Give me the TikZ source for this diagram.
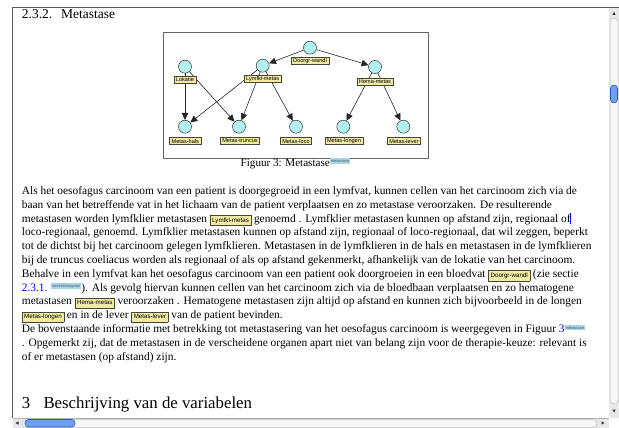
\documentclass[tikz,border=0pt]{standalone}
\usepackage{fontspec}
\setmainfont{Liberation Serif}
\newfontfamily\sansf{Liberation Sans}
\usetikzlibrary{arrows.meta}
\definecolor{labfill}{RGB}{240,234,164}
\definecolor{labdraw}{RGB}{70,70,50}
\definecolor{circfill}{RGB}{178,240,240}
\definecolor{tagfill}{RGB}{168,214,232}
\definecolor{tagtext}{RGB}{70,90,110}
\definecolor{linkblue}{RGB}{0,0,238}
\definecolor{thumbblue}{RGB}{110,160,235}
\definecolor{thumbdraw}{RGB}{40,90,190}
\definecolor{trackgray}{RGB}{232,232,232}
\definecolor{framegray}{RGB}{90,90,90}
\newcommand{\ybox}[1]{{\setlength{\fboxsep}{1.8pt}\setlength{\fboxrule}{0.5pt}\fcolorbox{labdraw}{labfill}{\fontsize{6.2}{7}\sansf\rule[-1.5pt]{0pt}{6.3pt}#1}}}
\newcommand{\btag}[1]{\raisebox{3.5pt}{\setlength{\fboxsep}{1pt}\colorbox{tagfill}{\fontsize{4}{4}\sansf\color{tagtext}\rule{0pt}{3.2pt}#1}}}
\tikzset{
  txt/.style={anchor=base west, inner sep=0pt, font=\fontsize{11.4}{13.8}\selectfont},
  circ/.style={circle, draw=black!80, fill=circfill, line width=0.5pt, minimum size=13pt, inner sep=0pt},
  lab/.style={draw=labdraw, fill=labfill, line width=0.5pt, inner xsep=2pt, inner ysep=0.8pt, font=\fontsize{5.6}{6}\sansf, minimum height=7pt},
  edge/.style={draw=black!85, line width=0.6pt, -{Triangle[length=7pt,width=6.5pt]}}
}
\begin{document}
\begin{tikzpicture}[x=1pt,y=-1pt]
\fill[white] (0,0) rectangle (619,428);
\useasboundingbox (0,0) rectangle (619,428);
% window frame
\draw[framegray, line width=0.8pt] (12.5,418) -- (12.5,7.3) -- (619,7.3);
% title
\node[txt, font=\fontsize{13.5}{15}\selectfont] (t1) at (21.7,18.8) {2.3.2.};
\node[txt, font=\fontsize{13.5}{15}\selectfont] (t2) at (61,18.8) {Metastase};
% figure frame
\draw[gray!80!black, line width=0.9pt] (163,32) rectangle (428,158);
% circles
\node[circ] (cD) at (310,47.7) {};
\node[circ] (cLo) at (185,66.7) {};
\node[circ] (cLy) at (262.7,65.7) {};
\node[circ] (cH) at (375,67) {};
\node[circ] (cMh) at (185,126.7) {};
\node[circ] (cMt) at (239,126.7) {};
\node[circ] (cMl) at (296,126.7) {};
\node[circ] (cMlo) at (343.3,126.7) {};
\node[circ] (cMle) at (403.3,126.7) {};
% edges
\draw[edge] (cD) -- (cLy);
\draw[edge] (cD) -- (cH);
\draw[edge] (cLo) -- (cMh);
\draw[edge] (cLo) -- (cMt);
\draw[edge] (cLy) -- (cMh);
\draw[edge] (cLy) -- (cMt);
\draw[edge] (cLy) -- (cMl);
\draw[edge] (cH) -- (cMlo);
\draw[edge] (cH) -- (cMle);
% labels
\node[lab] (lD) at (310,61) {Doorgr-wandl};
\node[lab] (lLo) at (185,79.3) {Lokatie};
\node[lab] (lLy) at (262.7,79) {Lymfkl-metas};
\node[lab] (lH) at (375,81.7) {Hema-metas};
\node[lab] (lMh) at (185.3,141) {Metas-hals};
\node[lab] (lMt) at (240,141) {Metas-truncus};
\node[lab] (lMl) at (296,141) {Metas-loco};
\node[lab] (lMlo) at (344,141) {Metas-longen};
\node[lab] (lMle) at (404,141) {Metas-lever};
% caption
\node[anchor=base, inner sep=0pt, font=\fontsize{11.1}{13}\selectfont] (cap) at (295.5,166) {Figuur 3: Metastase\btag{metastase}};
% body text
\node[txt] (b1) at (21.7,194.5) {Als het oesofagus carcinoom van een patient is doorgegroeid in een lymfvat, kunnen cellen van het carcinoom zich via de};
\node[txt] (b2) at (21.7,208.3) {baan van het betreffende vat in het lichaam van de patient verplaatsen en zo metastase veroorzaken. De resulterende};
\node[txt] (b3) at (21.7,222.1) {metastasen worden lymfklier metastasen \ybox{Lymfkl-metas} genoemd . Lymfklier metastasen kunnen op afstand zijn, regionaal of};
\node[txt] (b4) at (21.7,235.9) {loco-regionaal, genoemd. Lymfklier metastasen kunnen op afstand zijn, regionaal of loco-regionaal, dat wil zeggen, beperkt};
\node[txt] (b5) at (21.7,249.7) {tot de dichtst bij het carcinoom gelegen lymfklieren. Metastasen in de lymfklieren in de hals en metastasen in de lymfklieren};
\node[txt] (b6) at (21.7,263.5) {bij de truncus coeliacus worden als regionaal of als op afstand gekenmerkt, afhankelijk van de lokatie van het carcinoom.};
\node[txt] (b7) at (21.7,277.3) {Behalve in een lymfvat kan het oesofagus carcinoom van een patient ook doorgroeien in een bloedvat \ybox{Doorgr-wandl} (zie sectie};
\node[txt] (b8) at (21.7,291.1) {{\color{linkblue}2.3.1.} \btag{sectieDoorgroei}). Als gevolg hiervan kunnen cellen van het carcinoom zich via de bloedbaan verplaatsen en zo hematogene};
\node[txt] (b9) at (21.7,304.9) {metastasen \ybox{Hema-metas} veroorzaken . Hematogene metastasen zijn altijd op afstand en kunnen zich bijvoorbeeld in de longen};
\node[txt] (b10) at (21.7,318.7) {\ybox{Metas-longen} en in de lever \ybox{Metas-lever} van de patient bevinden.};
\node[txt] (b11) at (21.7,332.5) {De bovenstaande informatie met betrekking tot metastasering van het oesofagus carcinoom is weergegeven in Figuur {\color{linkblue}3}\btag{metastase}};
\node[txt] (b12) at (21.7,346.3) {. Opgemerkt zij, dat de metastasen in de verscheidene organen apart niet van belang zijn voor de therapie-keuze: relevant is};
\node[txt] (b13) at (21.7,360.1) {of er metastasen (op afstand) zijn.};
% cursor
\draw[blue, line width=0.6pt] (570.5,213) -- (570.5,224);
% heading
\node[txt, font=\fontsize{16.8}{20}\selectfont] (h1) at (21.7,408) {3};
\node[txt, font=\fontsize{16.8}{20}\selectfont] (h2) at (43.3,408) {Beschrijving van de variabelen};
% right scrollbar
\fill[trackgray] (609,8) rectangle (619,418);
\draw[gray!55, fill=gray!6, rounded corners=4pt, line width=0.5pt] (610,18) rectangle (618,404);
\fill[gray!40!black] (612.3,15) -- (615.7,15) -- (614,12) -- cycle;
\fill[gray!40!black] (612.3,409.5) -- (615.7,409.5) -- (614,412.5) -- cycle;
\draw[thumbdraw, fill=thumbblue, rounded corners=3.5pt, line width=0.6pt] (610.5,85) rectangle (617.5,103);
% bottom scrollbar
\fill[trackgray] (12.5,418) rectangle (609,428);
\draw[gray!60, line width=0.5pt] (12.5,418) -- (609,418);
\draw[gray!55, fill=gray!6, rounded corners=4pt, line width=0.5pt] (22,419.5) rectangle (597,427.5);
\fill[gray!40!black] (18.5,421.3) -- (18.5,424.7) -- (15.5,423) -- cycle;
\fill[gray!40!black] (601.5,421.3) -- (601.5,424.7) -- (604.5,423) -- cycle;
\draw[thumbdraw, fill=thumbblue, rounded corners=3.5pt, line width=0.6pt] (25,419.5) rectangle (75,427);
\end{tikzpicture}
\end{document}
